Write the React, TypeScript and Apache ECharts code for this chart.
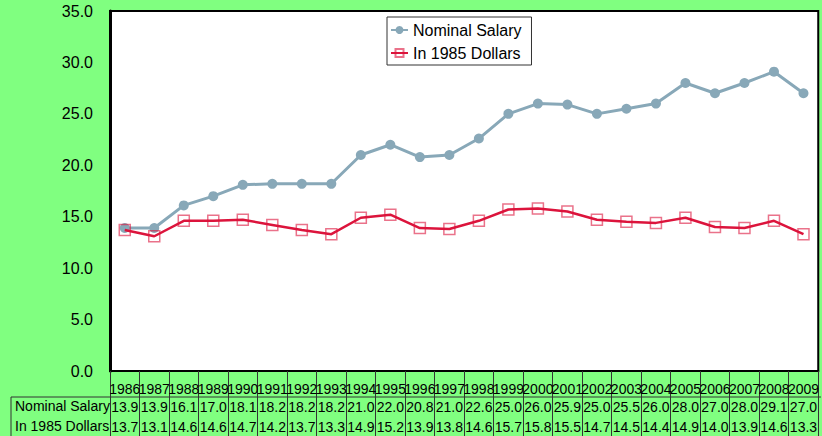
import React, { useEffect, useRef } from "react";
import * as echarts from "echarts";

const years = ["1986","1987","1988","1989","1990","1991","1992","1993","1994","1995","1996","1997","1998","1999","2000","2001","2002","2003","2004","2005","2006","2007","2008","2009"];
const nominalSalary = [13.9,13.9,16.1,17.0,18.1,18.2,18.2,18.2,21.0,22.0,20.8,21.0,22.6,25.0,26.0,25.9,25.0,25.5,26.0,28.0,27.0,28.0,29.1,27.0];
const in1985Dollars = [13.7,13.1,14.6,14.6,14.7,14.2,13.7,13.3,14.9,15.2,13.9,13.8,14.6,15.7,15.8,15.5,14.7,14.5,14.4,14.9,14.0,13.9,14.6,13.3];
const seriesNames = ["Nominal Salary", "In 1985 Dollars"];
const yTicks = { min: 0, max: 35, interval: 5 };

const FONT = "'Liberation Sans', Arial, sans-serif";

export default function App() {
  const ref = useRef<HTMLDivElement>(null);
  useEffect(() => {
    if (!ref.current) return;
    const chart = echarts.init(ref.current, null, { renderer: "svg" });
    const tableAxis = (margin: number, fmt: (v: string, i: number) => string, main: boolean) => ({
      type: "category",
      data: years,
      gridIndex: 0,
      position: "bottom",
      boundaryGap: true,
      axisLine: main ? { show: true, lineStyle: { color: "#000", width: 2 } } : { show: false },
      axisTick: main
        ? { show: true, length: 65, lineStyle: { color: "#333", width: 1 } }
        : { show: false },
      axisLabel: {
        show: true,
        interval: 0,
        hideOverlap: false,
        margin,
        fontSize: 14,
        fontFamily: FONT,
        color: "#000",
        formatter: fmt,
      },
      splitLine: { show: false },
    });
    chart.setOption({
      animation: false,
      backgroundColor: "#80FF80",
      textStyle: { fontFamily: FONT },
      grid: {
        left: 110,
        top: 11,
        width: 711,
        height: 360,
        show: true,
        backgroundColor: "#fff",
        borderColor: "#000",
        borderWidth: 2,
      },
      legend: {
        orient: "vertical",
        left: 387,
        top: 17,
        backgroundColor: "#fff",
        borderColor: "#333",
        borderWidth: 1,
        borderRadius: 0,
        padding: [5, 10, 4, 3],
        itemGap: 7,
        itemWidth: 17,
        itemHeight: 10,
        textStyle: { fontSize: 16, color: "#000", fontFamily: FONT },
        data: seriesNames,
      },
      xAxis: [
        tableAxis(11, (v: string) => v, true),
        tableAxis(29, (_v: string, i: number) => nominalSalary[i].toFixed(1), false),
        tableAxis(49, (_v: string, i: number) => in1985Dollars[i].toFixed(1), false),
      ],
      yAxis: {
        type: "value",
        min: yTicks.min,
        max: yTicks.max,
        interval: yTicks.interval,
        axisLine: { show: true, lineStyle: { color: "#000", width: 3 } },
        axisTick: { show: false },
        splitLine: { show: false },
        axisLabel: {
          margin: 17,
          fontSize: 16,
          fontFamily: FONT,
          color: "#000",
          formatter: (v: number) => v.toFixed(1),
        },
      },
      series: [
        {
          name: seriesNames[0],
          type: "line",
          xAxisIndex: 0,
          data: nominalSalary,
          symbol: "circle",
          symbolSize: 10,
          lineStyle: { color: "#88A8B8", width: 3 },
          itemStyle: { color: "#88A8B8" },
          z: 2,
        },
        {
          name: seriesNames[1],
          type: "line",
          xAxisIndex: 0,
          data: in1985Dollars,
          symbol: "rect",
          symbolSize: 11,
          lineStyle: { color: "#DC143C", width: 2.5 },
          itemStyle: { color: "rgba(255,255,255,0)", borderColor: "rgba(220,20,60,0.6)", borderWidth: 1.5 },
          z: 3,
        },
      ],
      graphic: [
        { type: "line", shape: { x1: 11, y1: 397, x2: 821, y2: 397 }, style: { stroke: "#333", lineWidth: 1 } },
        { type: "line", shape: { x1: 11, y1: 397, x2: 11, y2: 436 }, style: { stroke: "#333", lineWidth: 1 } },
        { type: "text", left: 15, top: 399, style: { text: seriesNames[0], fontSize: 14, fontFamily: FONT, fill: "#000" } },
        { type: "text", left: 15, top: 419, style: { text: seriesNames[1], fontSize: 14, fontFamily: FONT, fill: "#000" } },
      ],
    });
    return () => chart.dispose();
  }, []);
  return <div ref={ref} style={{ position: "fixed", left: 0, top: 0, width: 822, height: 436 }} />;
}
